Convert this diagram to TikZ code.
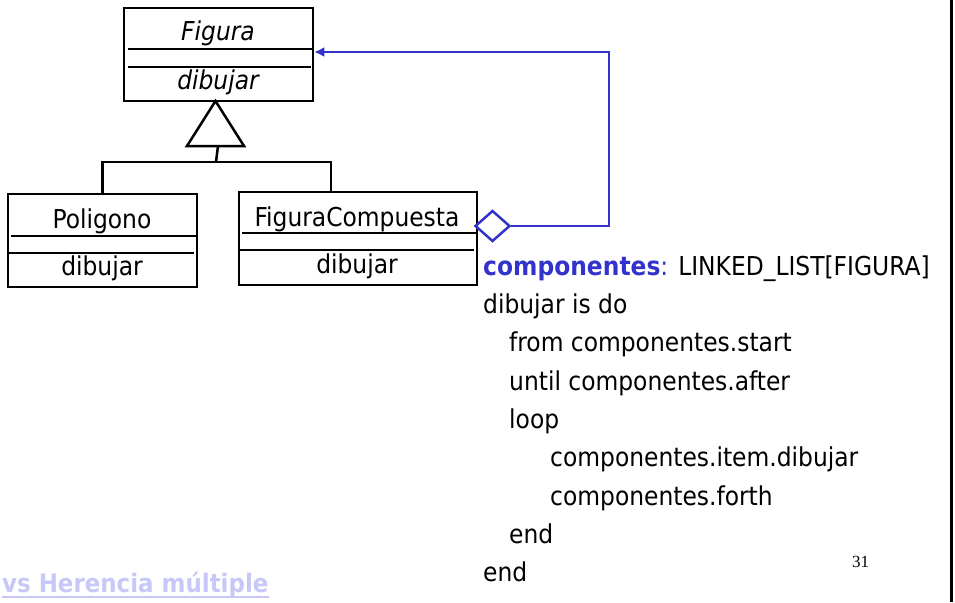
\documentclass[tikz,border=0pt]{standalone}
\usepackage{fontspec}
\setmainfont{DejaVu Sans Condensed}
\newfontfamily\pagefont{Liberation Serif}
\usetikzlibrary{arrows.meta,shapes.geometric}
\definecolor{assocblue}{RGB}{51,51,204}
\definecolor{linkblue}{RGB}{200,200,248}

\begin{document}
\begin{tikzpicture}[x=1pt,y=-1pt,
    umlbox/.style={draw,line width=2.5pt,inner sep=0pt},
    umltext/.style={anchor=base,inner sep=0pt,font=\fontsize{26}{26}\selectfont},
    codeline/.style={anchor=base west,inner sep=0pt,font=\fontsize{26}{26}\selectfont},
    assoc/.style={draw=assocblue,line width=2.5pt}]
  \useasboundingbox (0,0) rectangle (955,602);
  % clases
  \node[umlbox,minimum width=189pt,minimum height=93pt] (Figura) at (218.5,54.5) {};
  \node[umlbox,minimum width=189pt,minimum height=93pt] (Poligono) at (102.5,240.5) {};
  \node[umlbox,minimum width=238pt,minimum height=93pt] (Compuesta) at (358,238.5) {};
  \draw[line width=2.5pt] (128,49) -- (313,49) (128,67) -- (311,67);
  \draw[line width=2.5pt] (11,236) -- (197,236) (8,253) -- (194,253);
  \draw[line width=2.5pt] (242,233) -- (477,233) (239,250) -- (474,250);
  \node[umltext] (figname) at (218,41) {\itshape Figura};
  \node[umltext] (figop) at (218,89) {\itshape dibujar};
  \node[umltext] (polname) at (102,228) {Poligono};
  \node[umltext] (polop) at (102,275) {dibujar};
  \node[umltext] (compname) at (357,226) {FiguraCompuesta};
  \node[umltext] (compop) at (357,273) {dibujar};
  % herencia
  \draw[line width=2.5pt] (215.5,101) coordinate (apex) -- (244,146) -- (187,146) -- cycle;
  \coordinate (tri) at (218,146);
  \draw[line width=2.5pt] (tri) -- ++(-2,16) coordinate (bus);
  \draw[line width=2.5pt] (Poligono.north) |- (bus) -| ([xshift=-27pt]Compuesta.north);
  % agregacion
  \node[diamond,draw=assocblue,line width=2.5pt,minimum width=35pt,minimum height=31pt,inner sep=0pt] (agg) at (492.5,226) {};
  \coordinate (turn) at (609,52);
  \draw[assoc,-{Latex[length=10pt,width=10pt]}] (agg.east) -| (turn) -- (Figura.east |- turn);
  \draw[line width=3pt] (951,0) -- (951,602);
  % codigo
  \node[codeline] (attr) at (483,275) {{\color{assocblue}\bfseries componentes}{\color{assocblue}:} LINKED\_LIST[FIGURA]};
  \node[codeline] (rout) at (483,313.5) {dibujar is do};
  \node[codeline] (cfrom) at (509,351.5) {from componentes.start};
  \node[codeline] (cuntil) at (509,390) {until componentes.after};
  \node[codeline] (cloop) at (509,428) {loop};
  \node[codeline] (citem) at (550,466.5) {componentes.item.dibujar};
  \node[codeline] (cforth) at (550,505) {componentes.forth};
  \node[codeline] (cend) at (509,543) {end};
  \node[codeline] (rend) at (483,581) {end};
  \node[anchor=base west,inner sep=0pt,font=\pagefont\fontsize{17}{17}\selectfont] (pagenum) at (852,567) {31};
  \node[anchor=base west,inner sep=0pt,text=linkblue,font=\bfseries\fontsize{25.5}{25.5}\selectfont] (seealso) at (2,592) {vs Herencia múltiple};
  \draw[linkblue,line width=1.5pt] ([yshift=-5pt]seealso.base west) -- ([yshift=-5pt]seealso.base east);
\end{tikzpicture}
\end{document}
